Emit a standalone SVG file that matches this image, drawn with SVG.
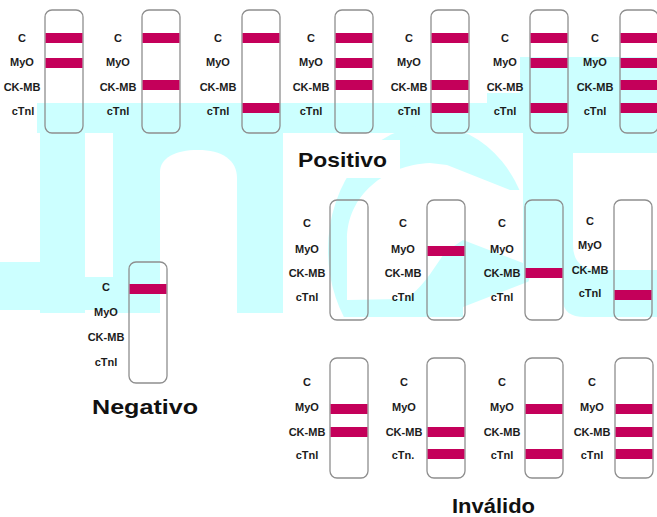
<svg xmlns="http://www.w3.org/2000/svg" width="657" height="517" viewBox="0 0 657 517">
<style>
.wm{fill:#ccffff}
.hole{fill:#ffffff}
.strip{fill:none;stroke:#8e8e8e;stroke-width:1.3}
.band{fill:#c4005a}
.lbl{font-family:"Liberation Sans",Arial,sans-serif;font-size:11px;font-weight:bold;fill:#1c1c1c;text-anchor:middle}
.title{font-family:"Liberation Sans",Arial,sans-serif;font-size:21px;font-weight:bold;fill:#111}
</style>
<defs>
<clipPath id="wmClip"><rect x="0" y="0" width="657" height="317"/></clipPath>
</defs>
<rect width="657" height="517" fill="#ffffff"/>
<g id="watermark" clip-path="url(#wmClip)">
  <rect class="wm" x="37" y="103" width="620" height="30"/>
  <rect class="wm" x="487" y="93" width="170" height="15"/>
  <rect class="wm" x="520" y="57" width="137" height="40"/>
  <rect class="wm" x="40" y="133" width="45" height="180"/>
  <rect class="wm" x="0" y="262" width="130" height="48"/>
  <rect class="hole" x="85" y="133" width="28" height="144"/>
  <rect class="wm" x="113" y="133" width="170" height="180"/>
  <path class="hole" d="M160,317 V172 C160,158 175,150 198,150 C222,150 237,160 237,178 V317 Z"/>
  <ellipse class="wm" cx="430" cy="250" rx="102" ry="125"/>
  <rect class="hole" x="290" y="140" width="110" height="38"/>
  <path class="hole" d="M347,240 C347,195 385,165 430,163 L447,165 L510,190 L530,190 L530,266 L523,263 L463,240 L445,252 C430,275 415,298 400,299 L347,300 Z"/>
  <path class="hole" d="M463,307 L530,281 L530,320 L463,320 Z"/>
  <path class="wm" d="M523,57 H657 V153 H573 V245 Q573,270 600,270 H657 V317 H585 Q563,317 563,300 V277 H523 Z"/>
</g>
<g id="pos1" transform="translate(45,10)">
  <rect class="strip" x="0" y="0" width="38" height="123" rx="7"/>
  <rect class="band" x="0.6" y="23" width="36.8" height="10"/>
  <rect class="band" x="0.6" y="48" width="36.8" height="10"/>
  <text class="lbl" x="-23" y="32">C</text><text class="lbl" x="-23" y="56">MyO</text><text class="lbl" x="-23" y="81">CK-MB</text><text class="lbl" x="-22" y="105">cTnl</text>
</g>
<g id="pos2" transform="translate(142,10)">
  <rect class="strip" x="0" y="0" width="38" height="123" rx="7"/>
  <rect class="band" x="0.6" y="23" width="36.8" height="10"/>
  <rect class="band" x="0.6" y="70" width="36.8" height="10"/>
  <text class="lbl" x="-24" y="32">C</text><text class="lbl" x="-24" y="56">MyO</text><text class="lbl" x="-24" y="81">CK-MB</text><text class="lbl" x="-24" y="105">cTnl</text>
</g>
<g id="pos3" transform="translate(242,10)">
  <rect class="strip" x="0" y="0" width="38" height="123" rx="7"/>
  <rect class="band" x="0.6" y="23" width="36.8" height="10"/>
  <rect class="band" x="0.6" y="93" width="36.8" height="10"/>
  <text class="lbl" x="-24" y="32">C</text><text class="lbl" x="-24" y="56">MyO</text><text class="lbl" x="-24" y="81">CK-MB</text><text class="lbl" x="-24" y="105">cTnl</text>
</g>
<g id="pos4" transform="translate(335,10)">
  <rect class="strip" x="0" y="0" width="38" height="123" rx="7"/>
  <rect class="band" x="0.6" y="23" width="36.8" height="10"/>
  <rect class="band" x="0.6" y="48" width="36.8" height="10"/>
  <rect class="band" x="0.6" y="70" width="36.8" height="10"/>
  <text class="lbl" x="-24" y="32">C</text><text class="lbl" x="-24" y="56">MyO</text><text class="lbl" x="-24" y="81">CK-MB</text><text class="lbl" x="-24" y="105">cTnl</text>
</g>
<g id="pos5" transform="translate(431,10)">
  <rect class="strip" x="0" y="0" width="38" height="123" rx="7"/>
  <rect class="band" x="0.6" y="23" width="36.8" height="10"/>
  <rect class="band" x="0.6" y="70" width="36.8" height="10"/>
  <rect class="band" x="0.6" y="93" width="36.8" height="10"/>
  <text class="lbl" x="-22" y="32">C</text><text class="lbl" x="-22" y="56">MyO</text><text class="lbl" x="-22" y="81">CK-MB</text><text class="lbl" x="-22" y="105">cTnl</text>
</g>
<g id="pos6" transform="translate(530,10)">
  <rect class="strip" x="0" y="0" width="38" height="123" rx="7"/>
  <rect class="band" x="0.6" y="23" width="36.8" height="10"/>
  <rect class="band" x="0.6" y="48" width="36.8" height="10"/>
  <rect class="band" x="0.6" y="93" width="36.8" height="10"/>
  <text class="lbl" x="-25" y="32">C</text><text class="lbl" x="-25" y="56">MyO</text><text class="lbl" x="-25" y="81">CK-MB</text><text class="lbl" x="-25" y="105">cTnl</text>
</g>
<g id="pos7" transform="translate(620,10)">
  <rect class="strip" x="0" y="0" width="38" height="123" rx="7"/>
  <rect class="band" x="0.6" y="23" width="36.8" height="10"/>
  <rect class="band" x="0.6" y="48" width="36.8" height="10"/>
  <rect class="band" x="0.6" y="70" width="36.8" height="10"/>
  <rect class="band" x="0.6" y="93" width="36.8" height="10"/>
  <text class="lbl" x="-25" y="32">C</text><text class="lbl" x="-25" y="56">MyO</text><text class="lbl" x="-25" y="81">CK-MB</text><text class="lbl" x="-25" y="105">cTnl</text>
</g>
<g id="title-positivo"><text class="title" x="298" y="167" textLength="89" lengthAdjust="spacingAndGlyphs">Positivo</text></g>
<g id="neg1" transform="translate(129,262)">
  <rect class="strip" x="0" y="0" width="38" height="121" rx="7"/>
  <rect class="band" x="0.6" y="22" width="36.8" height="10"/>
  <text class="lbl" x="-23" y="29">C</text><text class="lbl" x="-23" y="54">MyO</text><text class="lbl" x="-23" y="79">CK-MB</text><text class="lbl" x="-23" y="104">cTnl</text>
</g>
<g id="title-negativo"><text class="title" x="92" y="414" textLength="106" lengthAdjust="spacingAndGlyphs">Negativo</text></g>
<g id="inv1" transform="translate(330,200)">
  <rect class="strip" x="0" y="0" width="38" height="120" rx="7"/>
  <text class="lbl" x="-23" y="27">C</text><text class="lbl" x="-23" y="53">MyO</text><text class="lbl" x="-23" y="77">CK-MB</text><text class="lbl" x="-23" y="101">cTnl</text>
</g>
<g id="inv2" transform="translate(427,200)">
  <rect class="strip" x="0" y="0" width="38" height="120" rx="7"/>
  <rect class="band" x="0.6" y="46" width="36.8" height="10"/>
  <text class="lbl" x="-24" y="27">C</text><text class="lbl" x="-24" y="53">MyO</text><text class="lbl" x="-24" y="77">CK-MB</text><text class="lbl" x="-24" y="101">cTnl</text>
</g>
<g id="inv3" transform="translate(525,200)">
  <rect class="strip" x="0" y="0" width="38" height="120" rx="7"/>
  <rect class="band" x="0.6" y="68" width="36.8" height="10"/>
  <text class="lbl" x="-23" y="27">C</text><text class="lbl" x="-23" y="53">MyO</text><text class="lbl" x="-23" y="77">CK-MB</text><text class="lbl" x="-23" y="101">cTnl</text>
</g>
<g id="inv4" transform="translate(614,200)">
  <rect class="strip" x="0" y="0" width="38" height="120" rx="7"/>
  <rect class="band" x="0.6" y="90" width="36.8" height="10"/>
  <text class="lbl" x="-24" y="25">C</text><text class="lbl" x="-24" y="49">MyO</text><text class="lbl" x="-24" y="74">CK-MB</text><text class="lbl" x="-24" y="97">cTnl</text>
</g>
<g id="inv5" transform="translate(330,358)">
  <rect class="strip" x="0" y="0" width="38" height="120" rx="7"/>
  <rect class="band" x="0.6" y="46" width="36.8" height="10"/>
  <rect class="band" x="0.6" y="69" width="36.8" height="10"/>
  <text class="lbl" x="-23" y="28">C</text><text class="lbl" x="-23" y="53">MyO</text><text class="lbl" x="-23" y="78">CK-MB</text><text class="lbl" x="-23" y="101">cTnl</text>
</g>
<g id="inv6" transform="translate(427,358)">
  <rect class="strip" x="0" y="0" width="38" height="120" rx="7"/>
  <rect class="band" x="0.6" y="69" width="36.8" height="10"/>
  <rect class="band" x="0.6" y="91" width="36.8" height="10"/>
  <text class="lbl" x="-23" y="28">C</text><text class="lbl" x="-23" y="53">MyO</text><text class="lbl" x="-23" y="78">CK-MB</text><text class="lbl" x="-24" y="101">cTn.</text>
</g>
<g id="inv7" transform="translate(525,358)">
  <rect class="strip" x="0" y="0" width="38" height="120" rx="7"/>
  <rect class="band" x="0.6" y="46" width="36.8" height="10"/>
  <rect class="band" x="0.6" y="91" width="36.8" height="10"/>
  <text class="lbl" x="-23" y="28">C</text><text class="lbl" x="-23" y="53">MyO</text><text class="lbl" x="-23" y="78">CK-MB</text><text class="lbl" x="-23" y="101">cTnl</text>
</g>
<g id="inv8" transform="translate(615,358)">
  <rect class="strip" x="0" y="0" width="38" height="120" rx="7"/>
  <rect class="band" x="0.6" y="46" width="36.8" height="10"/>
  <rect class="band" x="0.6" y="69" width="36.8" height="10"/>
  <rect class="band" x="0.6" y="91" width="36.8" height="10"/>
  <text class="lbl" x="-23" y="28">C</text><text class="lbl" x="-23" y="53">MyO</text><text class="lbl" x="-23" y="78">CK-MB</text><text class="lbl" x="-23" y="101">cTnl</text>
</g>
<g id="title-invalido"><text class="title" x="452" y="513" textLength="83" lengthAdjust="spacingAndGlyphs">Inválido</text></g>
</svg>
